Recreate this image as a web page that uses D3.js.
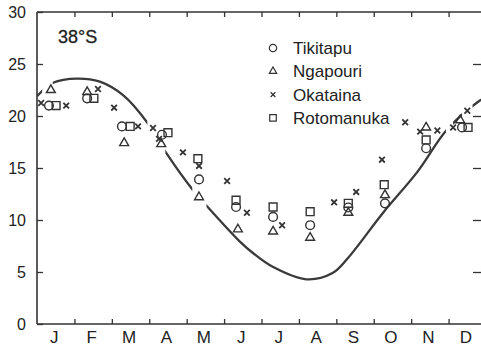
<!DOCTYPE html>
<html>
<head>
<meta charset="utf-8">
<script src="https://cdn.jsdelivr.net/npm/d3@7"></script>
<style>
  html, body { margin: 0; padding: 0; background: #fff; }
  svg { display: block; font-family: "Liberation Sans", Arial, Helvetica, sans-serif; }
</style>
</head>
<body>
<svg id="chart" width="481" height="353"></svg>
<script>
// Month letters along the x axis and temperature ticks on the y axis
const monthLabels = ["J", "F", "M", "A", "M", "J", "J", "A", "S", "O", "N", "D"];
const yTickValues = [0, 5, 10, 15, 20, 25, 30];

// Observed temperatures [month (decimal, 0 = 1 Jan), °C] per lake
const tikitapu = [[0.32, 21.0], [1.34, 21.7], [2.27, 19.0], [3.34, 18.2], [4.33, 13.9], [5.32, 11.25],
  [6.31, 10.3], [7.30, 9.5], [8.32, 11.2], [9.30, 11.6], [10.40, 16.9], [11.36, 18.9]];
const ngapouri = [[0.37, 22.5], [1.34, 22.3], [2.33, 17.4], [3.32, 17.3], [4.33, 12.2], [5.37, 9.1],
  [6.31, 8.9], [7.30, 8.3], [8.32, 10.7], [9.30, 12.4], [10.40, 18.9], [11.31, 19.6]];
const okataina = [[0.11, 21.25], [0.78, 21.0], [1.63, 22.6], [2.06, 20.8], [2.70, 19.0], [3.10, 18.85],
  [3.26, 17.8], [3.90, 16.5], [4.33, 15.2], [5.08, 13.75], [5.61, 10.7], [6.55, 9.5], [7.94, 11.7],
  [8.53, 12.7], [9.22, 15.8], [9.84, 19.4], [10.24, 18.5], [10.70, 18.6], [11.12, 18.9], [11.50, 20.5]];
const rotomanuka = [[0.51, 21.0], [1.52, 21.7], [2.49, 19.0], [3.50, 18.4], [4.30, 15.9], [5.32, 11.9],
  [6.31, 11.25], [7.30, 10.8], [8.32, 11.6], [9.28, 13.4], [10.40, 17.7], [11.52, 18.9]];

// Mean seasonal air temperature curve at 38°S [month, °C]
const airCurve = [[0, 21.9], [0.43, 23.2], [1.07, 23.6], [1.68, 23.3], [2.3, 22.0], [2.94, 19.4],
  [3.48, 16.3], [4.14, 13.0], [4.55, 11.3], [5.43, 7.9], [5.78, 6.8], [6.3, 5.5], [7.2, 4.3],
  [7.9, 4.9], [8.3, 6.3], [9.25, 10.7], [10.16, 14.6], [10.96, 18.7], [11.8, 21.4], [12, 21.8]];

// Month ranges where the printed curve line is broken
const curveBreaks = [[0.14, 0.42], [2.95, 3.43], [4.15, 4.53], [10.93, 11.12], [11.36, 11.64]];

const ink = "#333";
const svg = d3.select("#chart");
const frame = { left: 37, top: 12, right: 486, bottom: 324 };

const x = d3.scaleLinear().domain([0, 12]).range([frame.left, frame.right]);
const y = d3.scaleLinear().domain([0, 30]).range([frame.bottom, frame.top]);

// Frame: left, bottom and top lines with inward month ticks
const monthEdges = d3.range(1, 12);

const leftAxis = svg.append("g").attr("transform", `translate(${frame.left},0)`)
  .call(d3.axisLeft(y).tickValues(yTickValues).tickSize(-6).tickPadding(11).tickFormat(d3.format("d")));

const bottomAxis = svg.append("g").attr("transform", `translate(0,${frame.bottom})`)
  .call(d3.axisBottom(x).tickValues(monthEdges).tickSize(-5).tickFormat(""));

const topAxis = svg.append("g").attr("transform", `translate(0,${frame.top})`)
  .call(d3.axisTop(x).tickValues(monthEdges).tickSize(-5).tickFormat(""));

const rightAxis = svg.append("g").attr("transform", `translate(${frame.right},0)`)
  .call(d3.axisRight(y).tickValues(yTickValues.slice(1, -1)).tickSize(-13).tickFormat(""));
rightAxis.select(".domain").remove();

// Month letters centred in each month band
const monthAxis = svg.append("g").attr("transform", `translate(-2,${frame.bottom})`)
  .call(d3.axisBottom(x).tickValues(d3.range(12).map(i => i + 0.5)).tickSize(0).tickPadding(7)
    .tickFormat((d, i) => monthLabels[i]));
monthAxis.select(".domain").remove();

[leftAxis, bottomAxis, topAxis, rightAxis, monthAxis].forEach(g => {
  g.selectAll(".domain").attr("stroke", ink).attr("stroke-width", 1.6);
  g.selectAll(".tick line").attr("stroke", ink).attr("stroke-width", 1.3);
  g.selectAll("text").attr("fill", "#222").attr("font-family", null);
});
leftAxis.selectAll("text").attr("font-size", 16);
monthAxis.selectAll("text").attr("font-size", 17).attr("dy", "0.72em");
leftAxis.select(".domain").attr("d", `M0,${frame.bottom}V${frame.top}`);
topAxis.select(".domain").attr("d", `M${frame.left},0H${frame.right}`);
bottomAxis.select(".domain").attr("d", `M${frame.left},0H${frame.right}`);

// Visible stretches of the curve: the month range minus the breaks
const visibleSpans = [];
let spanStart = 0;
curveBreaks.forEach(([a, b]) => { visibleSpans.push([spanStart, a]); spanStart = b; });
visibleSpans.push([spanStart, 12]);

const clip = svg.append("defs").append("clipPath").attr("id", "curve-clip");
clip.selectAll("rect")
  .data(visibleSpans)
  .join("rect")
  .attr("x", d => x(d[0]))
  .attr("width", d => x(d[1]) - x(d[0]))
  .attr("y", 0)
  .attr("height", 353);

// Smooth seasonal curve
const line = d3.line().x(d => x(d[0])).y(d => y(d[1])).curve(d3.curveCatmullRom.alpha(0.5));
svg.append("path")
  .datum(airCurve)
  .attr("d", line)
  .attr("clip-path", "url(#curve-clip)")
  .attr("fill", "none")
  .attr("stroke", "#3a3a3a")
  .attr("stroke-width", 2.3);

// Marker shapes
const crossType = {
  draw(ctx, size) {
    const r = Math.sqrt(size) / 2;
    ctx.moveTo(-r, -r); ctx.lineTo(r, r);
    ctx.moveTo(r, -r); ctx.lineTo(-r, r);
  }
};
const markerDefs = [
  { name: "Tikitapu", data: tikitapu, type: d3.symbolCircle, size: 60 },
  { name: "Ngapouri", data: ngapouri, type: d3.symbolTriangle, size: 34 },
  { name: "Okataina", data: okataina, type: crossType, size: 32 },
  { name: "Rotomanuka", data: rotomanuka, type: d3.symbolSquare, size: 62 }
];

markerDefs.forEach(m => {
  svg.append("g").selectAll("path")
    .data(m.data)
    .join("path")
    .attr("transform", d => `translate(${x(d[0])},${y(d[1])})`)
    .attr("d", d3.symbol().type(m.type).size(m.size))
    .attr("fill", "none")
    .attr("stroke", ink)
    .attr("stroke-width", m.type === crossType ? 1.8 : 1.4);
});

// Latitude label
svg.append("text")
  .attr("x", 58).attr("y", 43)
  .attr("font-size", 18)
  .attr("fill", "#222")
  .attr("stroke", "#222").attr("stroke-width", 0.3)
  .text("38°S");

// Legend
const legend = svg.append("g").attr("transform", "translate(273,48)");
markerDefs.forEach((m, i) => {
  const row = legend.append("g").attr("transform", `translate(0,${i * 23.3})`);
  row.append("path")
    .attr("d", d3.symbol().type(m.type).size(m.size * 0.7))
    .attr("fill", "none")
    .attr("stroke", ink)
    .attr("stroke-width", 1.2);
  row.append("text")
    .attr("x", 20).attr("y", 0).attr("dy", "0.36em")
    .attr("font-size", 17)
    .attr("fill", "#222")
    .text(m.name);
});
</script>
</body>
</html>
